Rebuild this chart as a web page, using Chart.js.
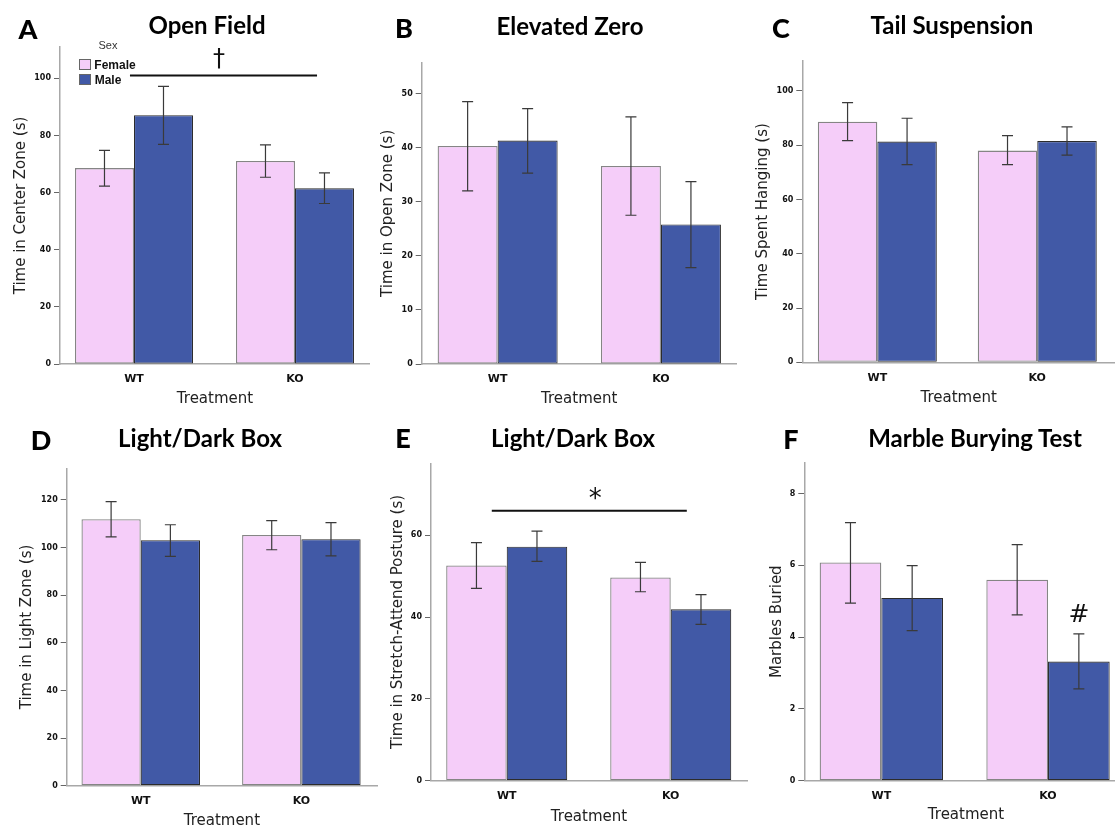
<!DOCTYPE html>
<html lang="en">
<head>
<meta charset="UTF-8">
<title>Behavioural tests - WT vs KO</title>
<script src="https://cdn.jsdelivr.net/npm/chart.js"></script>
<style>
  html, body { margin: 0; padding: 0; background: #fff; }
  body { position: relative; width: 1115px; height: 828px; overflow: hidden; }
  canvas { position: absolute; }
  .lbl { position: absolute; white-space: nowrap; transform: translate(-50%, -50%); line-height: 1; }
  .letter { font-family: Lato, sans-serif; font-weight: 900; font-size: 27px; color: #000; }
  .ptitle { font-family: Lato, sans-serif; font-weight: 700; font-size: 24px; color: #000; }
  .legend { position: absolute; font-family: "Liberation Sans", Arial, sans-serif; }
  .swatch { position: absolute; width: 10px; height: 9px; border: 1px solid #666; }
</style>
</head>
<body>

<script>
// shared categories
const treatments = ['WT', 'KO'];
const sexes = ['Female', 'Male'];

// A - open field
const ofFemale = [68.6, 71.1];
const ofMale = [87.1, 61.5];
const ofFemaleCI = [[62.3, 74.8], [65.4, 76.7]];
const ofMaleCI = [[76.9, 97.2], [56.2, 66.9]];
const ofTicks = [0, 20, 40, 60, 80, 100];

// B - elevated zero
const ezFemale = [40.3, 36.6];
const ezMale = [41.3, 25.8];
const ezFemaleCI = [[32.0, 48.5], [27.5, 45.7]];
const ezMaleCI = [[35.3, 47.2], [17.8, 33.7]];
const ezTicks = [0, 10, 20, 30, 40, 50];

// C - tail suspension
const tsFemale = [88.6, 78.0];
const tsMale = [81.3, 81.5];
const tsFemaleCI = [[81.7, 95.7], [72.8, 83.5]];
const tsMaleCI = [[72.8, 89.9], [76.3, 86.7]];
const tsTicks = [0, 20, 40, 60, 80, 100];

// D - light/dark box, time in light zone
const ldFemale = [111.9, 105.3];
const ldMale = [103.1, 103.5];
const ldFemaleCI = [[104.5, 119.3], [99.1, 111.3]];
const ldMaleCI = [[96.3, 109.6], [96.5, 110.5]];
const ldTicks = [0, 20, 40, 60, 80, 100, 120];

// E - light/dark box, stretch-attend posture
const saFemale = [52.6, 49.7];
const saMale = [57.2, 41.9];
const saFemaleCI = [[47.0, 58.2], [46.2, 53.4]];
const saMaleCI = [[53.6, 61.0], [38.2, 45.5]];
const saTicks = [0, 20, 40, 60];

// F - marble burying
const mbFemale = [6.08, 5.60];
const mbMale = [5.09, 3.32];
const mbFemaleCI = [[4.95, 7.19], [4.62, 6.58]];
const mbMaleCI = [[4.18, 5.99], [2.56, 4.09]];
const mbTicks = [0, 2, 4, 6, 8];

const PINK = '#f5cdf9';
const BLUE = '#4159a6';
const AXIS = '#a8a8a8';

const panels = [
  { letter: 'A', title: 'Open Field', yTitle: 'Time in Center Zone (s)',
    female: ofFemale, male: ofMale, femaleCI: ofFemaleCI, maleCI: ofMaleCI, yTicks: ofTicks, yMax: 111,
    box: [0, 0, 370, 415], pad: { left: 8, top: 47, right: 0, bottom: 3 }, yW: 52, xH: 48,
    xMin: -0.4596, xMax: 1.466, cat: 0.733, titleAt: [207, 25], letterAt: [28, 28],
    marks: { lines: [{ x0: -0.025, x1: 1.137, y: 101 }], symbols: [{ x: 0.528, y: 106.5, text: '\u2020', size: 24 }] } },
  { letter: 'B', title: 'Elevated Zero', yTitle: 'Time in Open Zone (s)',
    female: ezFemale, male: ezMale, femaleCI: ezFemaleCI, maleCI: ezMaleCI, yTicks: ezTicks, yMax: 55.7,
    box: [370, 0, 375, 415], pad: { left: 5.3, top: 62.7, right: 8.3, bottom: 3 }, yW: 46.4, xH: 48,
    xMin: -0.465, xMax: 1.464, cat: 0.735, titleAt: [570, 26], letterAt: [404, 27], marks: null },
  { letter: 'C', title: 'Tail Suspension', yTitle: 'Time Spent Hanging (s)',
    female: tsFemale, male: tsMale, femaleCI: tsFemaleCI, maleCI: tsMaleCI, yTicks: tsTicks, yMax: 111,
    box: [745, 0, 370, 415], pad: { left: 5.3, top: 61, right: 0, bottom: 3.7 }, yW: 52, xH: 49,
    xMin: -0.469, xMax: 1.486, cat: 0.744, titleAt: [952, 25], letterAt: [781, 27], marks: null },
  { letter: 'D', title: 'Light/Dark Box', yTitle: 'Time in Light Zone (s)',
    female: ldFemale, male: ldMale, femaleCI: ldFemaleCI, maleCI: ldMaleCI, yTicks: ldTicks, yMax: 133.3,
    box: [0, 415, 380, 420], pad: { left: 13.7, top: 53.3, right: 3, bottom: 1 }, yW: 53, xH: 48.3,
    xMin: -0.461, xMax: 1.471, cat: 0.738, titleAt: [200, 438], letterAt: [41, 439], marks: null },
  { letter: 'E', title: 'Light/Dark Box', yTitle: 'Time in Stretch-Attend Posture (s)',
    female: saFemale, male: saMale, femaleCI: saFemaleCI, maleCI: saMaleCI, yTicks: saTicks, yMax: 77.6,
    box: [370, 415, 380, 420], pad: { left: 15.3, top: 48.3, right: 3, bottom: 5.3 }, yW: 45.7, xH: 49,
    xMin: -0.4616, xMax: 1.465, cat: 0.738, titleAt: [573, 438], letterAt: [403, 437],
    marks: { lines: [{ x0: -0.091, x1: 1.098, y: 66 }], symbols: [{ x: 0.54, y: 68.6, text: '*', size: 26 }] } },
  { letter: 'F', title: 'Marble Burying Test', yTitle: 'Marbles Buried',
    female: mbFemale, male: mbMale, femaleCI: mbFemaleCI, maleCI: mbMaleCI, yTicks: mbTicks, yMax: 8.86,
    box: [745, 415, 385, 420], pad: { left: 18.7, top: 47.7, right: 2.3, bottom: 7 }, yW: 40.6, xH: 47.3,
    xMin: -0.462, xMax: 1.478, cat: 0.74, titleAt: [975, 438], letterAt: [791, 438],
    marks: { lines: [], symbols: [{ x: 1.186, y: 4.6, text: '#', size: 25 }] } }
];

// error bars drawn from each dataset's ci array
const errorBars = {
  id: 'errorBars',
  afterDatasetsDraw(chart) {
    const ctx = chart.ctx;
    const y = chart.scales.y;
    ctx.save();
    ctx.strokeStyle = '#3a3a3a';
    ctx.lineWidth = 1.2;
    chart.data.datasets.forEach((ds, di) => {
      chart.getDatasetMeta(di).data.forEach((bar, i) => {
        const lo = y.getPixelForValue(ds.ci[i][0]);
        const hi = y.getPixelForValue(ds.ci[i][1]);
        ctx.beginPath();
        ctx.moveTo(bar.x, lo); ctx.lineTo(bar.x, hi);
        ctx.moveTo(bar.x - 5.5, lo); ctx.lineTo(bar.x + 5.5, lo);
        ctx.moveTo(bar.x - 5.5, hi); ctx.lineTo(bar.x + 5.5, hi);
        ctx.stroke();
      });
    });
    ctx.restore();
  }
};

// significance lines and symbols
const sigMarks = {
  id: 'sigMarks',
  afterDatasetsDraw(chart, args, opts) {
    if (!opts || !opts.lines) return;
    const { ctx, scales: { x, y } } = chart;
    ctx.save();
    ctx.strokeStyle = '#111';
    ctx.lineWidth = 2;
    opts.lines.forEach(l => {
      ctx.beginPath();
      ctx.moveTo(x.getPixelForValue(l.x0), y.getPixelForValue(l.y));
      ctx.lineTo(x.getPixelForValue(l.x1), y.getPixelForValue(l.y));
      ctx.stroke();
    });
    ctx.fillStyle = '#111';
    ctx.textAlign = 'center';
    ctx.textBaseline = 'middle';
    opts.symbols.forEach(s => {
      ctx.font = s.size + 'px "DejaVu Sans"';
      ctx.fillText(s.text, x.getPixelForValue(s.x), y.getPixelForValue(s.y));
    });
    ctx.restore();
  }
};

function addLabel(cls, text, at) {
  const d = document.createElement('div');
  d.className = 'lbl ' + cls;
  d.textContent = text;
  d.style.left = at[0] + 'px';
  d.style.top = at[1] + 'px';
  document.body.appendChild(d);
}

panels.forEach(p => {
  const cv = document.createElement('canvas');
  cv.width = p.box[2];
  cv.height = p.box[3];
  cv.style.left = p.box[0] + 'px';
  cv.style.top = p.box[1] + 'px';
  document.body.appendChild(cv);

  new Chart(cv.getContext('2d'), {
    type: 'bar',
    data: {
      datasets: [{
        label: sexes[0],
        data: p.female.map((v, i) => ({ x: i, y: v })),
        ci: p.femaleCI,
        backgroundColor: PINK,
        borderColor: '#858585',
        borderWidth: 1.3,
        borderSkipped: false
      }, {
        label: sexes[1],
        data: p.male.map((v, i) => ({ x: i, y: v })),
        ci: p.maleCI,
        backgroundColor: BLUE,
        borderColor: '#2c2c2c',
        borderWidth: 1.1,
        borderSkipped: false
      }]
    },
    options: {
      responsive: false,
      animation: false,
      devicePixelRatio: 1,
      layout: { padding: p.pad },
      datasets: { bar: { categoryPercentage: p.cat, barPercentage: 1 } },
      plugins: {
        legend: { display: false },
        tooltip: { enabled: false },
        sigMarks: p.marks || {}
      },
      scales: {
        x: {
          type: 'linear',
          offset: false,
          bounds: 'data',
          min: p.xMin,
          max: p.xMax,
          afterBuildTicks: s => { s.ticks = treatments.map((_, i) => ({ value: i })); },
          afterFit: s => { s.height = p.xH; },
          grid: { display: false, drawTicks: false, offset: false },
          border: { display: true, color: AXIS, width: 1.5 },
          ticks: {
            padding: 9,
            color: '#111',
            font: { family: 'DejaVu Sans', weight: 'bold', size: 11 },
            callback: v => treatments[v]
          },
          title: {
            display: true, text: 'Treatment', color: '#222',
            font: { family: 'DejaVu Sans', size: 15 }, padding: { top: 4, bottom: 4 }
          }
        },
        y: {
          min: 0,
          max: p.yMax,
          afterBuildTicks: s => { s.ticks = p.yTicks.map(v => ({ value: v })); },
          afterFit: s => { s.width = p.yW; },
          grid: { display: true, drawOnChartArea: false, drawTicks: true, tickLength: 6, color: '#666', lineWidth: 1 },
          border: { display: true, color: AXIS, width: 1.5 },
          ticks: {
            padding: 3,
            color: '#111',
            font: { family: 'DejaVu Sans', weight: 'bold', size: 8 }
          },
          title: {
            display: true, text: p.yTitle, color: '#222',
            font: { family: 'DejaVu Sans', size: 15 }, padding: { top: 4, bottom: 4 }
          }
        }
      }
    },
    plugins: [errorBars, sigMarks]
  });

  addLabel('letter', p.letter, p.letterAt);
  addLabel('ptitle', p.title, p.titleAt);
});

// legend of panel A
const leg = document.createElement('div');
leg.className = 'legend';
leg.innerHTML =
  '<div class="lbl" style="left:108px;top:45px;font-size:11px;color:#333">Sex</div>' +
  '<div class="swatch" style="left:79px;top:59px;background:' + PINK + '"></div>' +
  '<div class="swatch" style="left:79px;top:74px;background:' + BLUE + '"></div>' +
  '<div class="lbl" style="left:115px;top:64.5px;font-size:12px;font-weight:bold;color:#111">' + sexes[0] + '</div>' +
  '<div class="lbl" style="left:108px;top:79.5px;font-size:12px;font-weight:bold;color:#111">' + sexes[1] + '</div>';
document.body.appendChild(leg);
</script>
</body>
</html>
